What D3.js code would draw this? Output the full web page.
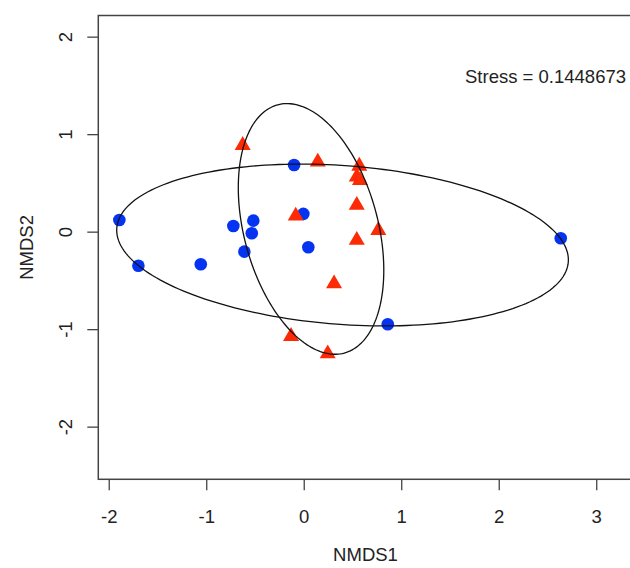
<!DOCTYPE html>
<html>
<head>
<meta charset="utf-8">
<script src="https://cdn.jsdelivr.net/npm/d3@7"></script>
<style>
  html, body { margin: 0; padding: 0; background: #fff; }
  svg { display: block; font-family: "Liberation Sans", Arial, sans-serif; }
</style>
</head>
<body>
<div id="chart"></div>
<script>
// NMDS scores, group 1 (blue circles)
const grupo1X = [-1.891, -1.696, -1.056, -0.722, -0.517, -0.533, -0.609, -0.099, -0.004, 0.047, 0.862, 2.636];
const grupo1Y = [0.120, -0.349, -0.334, 0.058, 0.113, -0.016, -0.205, 0.684, 0.182, -0.160, -0.950, -0.068];

// NMDS scores, group 2 (red triangles)
const grupo2X = [-0.626, 0.144, 0.570, 0.544, 0.577, 0.544, 0.765, 0.544, -0.082, 0.311, -0.130, 0.246];
const grupo2Y = [0.886, 0.715, 0.673, 0.561, 0.527, 0.271, 0.014, -0.088, 0.161, -0.533, -1.073, -1.251];

// ellipses: centre x, centre y, semi-axis a, semi-axis b, angle (deg)
const elipse1 = [0.398, -0.137, 2.322, 0.814, -4.3];
const elipse2 = [0.075, 0.028, 1.318, 0.687, -75];

const xTicks = [-2, -1, 0, 1, 2, 3];
const yTicks = [-2, -1, 0, 1, 2];
const etiquetaStress = "Stress = 0.1448673";

// 1. lienzo
const width = 630, height = 568;
const svg = d3.select("#chart").append("svg")
    .attr("width", width)
    .attr("height", height);

// 2. escalas (aspecto 1:1, como en R)
const x = d3.scaleLinear().domain([-2.107, 3.374]).range([98.3, 632.7]);
const y = d3.scaleLinear().domain([-2.54, 2.217]).range([479.3, 15.5]);

// etiquetas con guion normal, como R
const formato = (d) => String(d);

// 3. ejes
const ejeX = svg.append("g")
    .attr("transform", `translate(0,${y.range()[0]})`)
    .call(d3.axisBottom(x).tickValues(xTicks).tickSize(11).tickPadding(20).tickFormat(formato));
ejeX.select(".domain").remove();
ejeX.selectAll("line").attr("stroke", "#444").attr("stroke-width", 1.3);
ejeX.selectAll("text").attr("font-size", 18.5).attr("fill", "#222")
    .attr("font-family", "Liberation Sans, Arial, sans-serif");

const ejeY = svg.append("g")
    .attr("transform", `translate(${x.range()[0]},0)`)
    .call(d3.axisLeft(y).tickValues(yTicks).tickSize(11).tickFormat(formato));
ejeY.select(".domain").remove();
ejeY.selectAll("line").attr("stroke", "#444").attr("stroke-width", 1.3);
ejeY.selectAll("text")
    .attr("x", null).attr("dy", null)
    .attr("text-anchor", "middle")
    .attr("transform", "translate(-26,0) rotate(-90)")
    .attr("font-size", 18.5).attr("fill", "#222")
    .attr("font-family", "Liberation Sans, Arial, sans-serif");

// caja del grafico (el borde derecho queda fuera)
svg.append("rect")
    .attr("x", x.range()[0])
    .attr("y", y.range()[1])
    .attr("width", x.range()[1] - x.range()[0])
    .attr("height", y.range()[0] - y.range()[1])
    .attr("fill", "none")
    .attr("stroke", "#444")
    .attr("stroke-width", 1.5);

// titulos de ejes
svg.append("text")
    .attr("x", (x.range()[0] + x.range()[1]) / 2)
    .attr("y", 561)
    .attr("text-anchor", "middle")
    .attr("font-size", 18.5).attr("fill", "#222")
    .text("NMDS1");

svg.append("text")
    .attr("transform", `translate(33,${(y.range()[0] + y.range()[1]) / 2}) rotate(-90)`)
    .attr("text-anchor", "middle")
    .attr("font-size", 18.5).attr("fill", "#222")
    .text("NMDS2");

// 4. puntos
const puntos1 = grupo1X.map((d, i) => ({ x: d, y: grupo1Y[i] }));
const puntos2 = grupo2X.map((d, i) => ({ x: d, y: grupo2Y[i] }));

svg.append("g")
    .selectAll("circle")
    .data(puntos1)
    .join("circle")
    .attr("cx", (d) => x(d.x))
    .attr("cy", (d) => y(d.y))
    .attr("r", 6.3)
    .attr("fill", "#0433f2");

const triangulo = d3.symbol().type(d3.symbolTriangle).size(111);
svg.append("g")
    .selectAll("path")
    .data(puntos2)
    .join("path")
    .attr("transform", (d) => `translate(${x(d.x)},${y(d.y)})`)
    .attr("d", triangulo)
    .attr("fill", "#fd2a06");

// 5. elipses
function puntosElipse(e) {
    const [cx, cy, a, b, ang] = e;
    const t = (ang * Math.PI) / 180;
    return d3.range(0, 200).map((i) => {
        const u = (i / 200) * 2 * Math.PI;
        const px = a * Math.cos(u), py = b * Math.sin(u);
        return [cx + px * Math.cos(t) - py * Math.sin(t), cy + px * Math.sin(t) + py * Math.cos(t)];
    });
}
const linea = d3.line().x((d) => x(d[0])).y((d) => y(d[1])).curve(d3.curveLinearClosed);

svg.append("g")
    .selectAll("path")
    .data([elipse1, elipse2])
    .join("path")
    .attr("d", (d) => linea(puntosElipse(d)))
    .attr("fill", "none")
    .attr("stroke", "#111")
    .attr("stroke-width", 1.3);

// 6. stress
svg.append("text")
    .attr("x", 626)
    .attr("y", 83)
    .attr("text-anchor", "end")
    .attr("font-size", 18.5).attr("fill", "#222")
    .text(etiquetaStress);
</script>
</body>
</html>
